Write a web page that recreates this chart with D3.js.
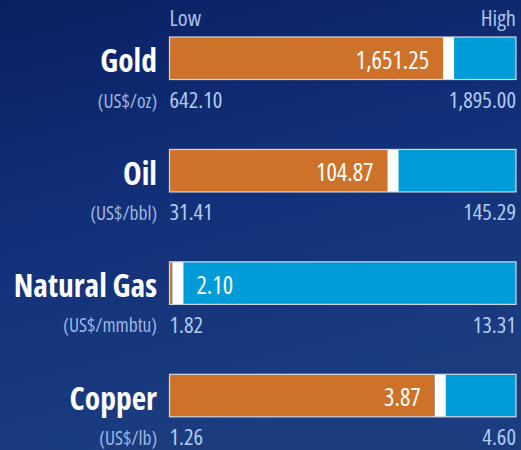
<!DOCTYPE html>
<html><head><meta charset="utf-8">
<script src="https://cdn.jsdelivr.net/npm/d3@7"></script>
<style>html,body{margin:0;padding:0;background:#0c2466;overflow:hidden} text{font-stretch:condensed}</style>
</head><body><svg id="c" width="521" height="450"></svg>
<script>
const categories = ["Gold", "Oil", "Natural Gas", "Copper"];
const units = ["(US$/oz)", "(US$/bbl)", "(US$/mmbtu)", "(US$/lb)"];
const lows = [642.10, 31.41, 1.82, 1.26];
const highs = [1895.00, 145.29, 13.31, 4.60];
const currents = [1651.25, 104.87, 2.10, 3.87];
const lowLabels = ["642.10", "31.41", "1.82", "1.26"];
const highLabels = ["1,895.00", "145.29", "13.31", "4.60"];
const currentLabels = ["1,651.25", "104.87", "2.10", "3.87"];
const headers = ["Low", "High"];

const W = 521, H = 450;
const svg = d3.select("#c");
const FONT = "'Open Sans','Roboto',sans-serif";

const defs = svg.append("defs");
const g = defs.append("linearGradient").attr("id","bg").attr("x1","0").attr("y1","0").attr("x2","0.3").attr("y2","1");
g.append("stop").attr("offset","0").attr("stop-color","#0a2062");
g.append("stop").attr("offset","0.5").attr("stop-color","#12307a");
g.append("stop").attr("offset","1").attr("stop-color","#1b3d80");
svg.append("rect").attr("width",W).attr("height",H).attr("fill","url(#bg)");

const x0 = 169.5, x1 = 516;
const bandH = 42.5;
const y = d3.scalePoint().domain(categories).range([37, 374.3]);

svg.append("text").attr("x",x0).attr("y",26).text(headers[0])
  .attr("font-family",FONT).attr("font-size",22.5).attr("fill","#a9c2e6");
svg.append("text").attr("x",x1).attr("y",26).attr("text-anchor","end").text(headers[1])
  .attr("font-family",FONT).attr("font-size",22.5).attr("fill","#a9c2e6");

const markerW = 11;
categories.forEach((cat, i) => {
  const sx = d3.scaleLinear().domain([lows[i], highs[i]]).range([x0, x1]);
  const top = y(cat);
  const cx = sx(currents[i]);
  const row = svg.append("g");
  row.append("rect").attr("x",x0).attr("y",top).attr("width",x1-x0).attr("height",bandH)
    .attr("fill","#009bd9");
  row.append("rect").attr("x",x0).attr("y",top).attr("width",Math.max(0,cx-markerW/2-x0)).attr("height",bandH)
    .attr("fill","#ce722a");
  row.append("rect").attr("x",cx-markerW/2).attr("y",top).attr("width",markerW).attr("height",bandH)
    .attr("fill","#ffffff");
  row.append("rect").attr("x",x0).attr("y",top).attr("width",x1-x0).attr("height",bandH)
    .attr("fill","none").attr("stroke","#d4d8e0").attr("stroke-width",1.2);
  const leftSpace = cx - markerW/2 - x0;
  const vt = row.append("text").attr("y",top+bandH/2+10.5).text(currentLabels[i])
    .attr("font-family",FONT).attr("font-size",24.5).attr("fill","#ffffff");
  if (leftSpace > 80) vt.attr("x",cx-markerW/2-14).attr("text-anchor","end");
  else vt.attr("x",cx+markerW/2+13).attr("text-anchor","start");
  row.append("text").attr("x",157).attr("y",top+bandH/2+14).attr("text-anchor","end").text(cat)
    .attr("font-family",FONT).attr("font-weight","bold").attr("font-size",31.5).attr("fill","#ffffff");
  row.append("text").attr("x",157).attr("y",top+bandH+28).attr("text-anchor","end").text(units[i])
    .attr("font-family",FONT).attr("font-size",19.5).attr("fill","#9db6de");
  row.append("text").attr("x",x0).attr("y",top+bandH+28.5).text(lowLabels[i])
    .attr("font-family",FONT).attr("font-size",22.5).attr("fill","#b3cbee");
  row.append("text").attr("x",x1).attr("y",top+bandH+28.5).attr("text-anchor","end").text(highLabels[i])
    .attr("font-family",FONT).attr("font-size",22.5).attr("fill","#b3cbee");
});
</script></body></html>
